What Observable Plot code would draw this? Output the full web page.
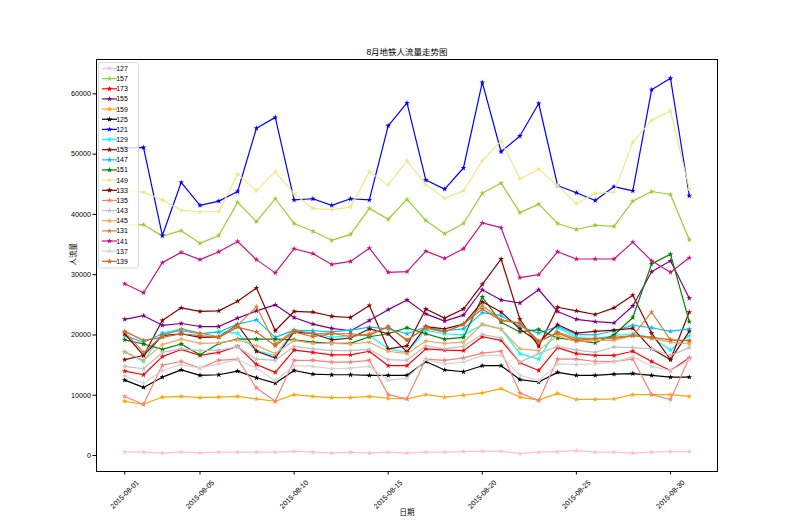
<!DOCTYPE html>
<html><head><meta charset="utf-8">
<script src="https://cdn.jsdelivr.net/npm/d3@7"></script>
<script src="https://cdn.jsdelivr.net/npm/@observablehq/plot@0.6"></script>
<style>body{margin:0;background:#fff}#chart svg{display:block}</style>
</head><body><div id="chart"></div>
<script>
// ---- data ----
const title = "8月地铁人流量走势图";
const xLabel = "日期";
const yLabel = "人流量";
const stations = ["127","157","173","155","159","125","121","129","153","147","151","149","133","135","143","145","131","141","137","139"];
const colors = ["#FFC0CB","#9ACD32","#FF0000","#800080","#FFA500","#000000","#0000FF","#00FFFF","#8B0000","#00BFFF","#008000","#F0E68C","#800000","#FA8072","#C0C0C0","#F4A460","#CD853F","#C71585","#D3D3D3","#D2691E"];
const dates = d3.utcDays(new Date(Date.UTC(2015,7,1)), new Date(Date.UTC(2015,8,1)));
const xTickLabels = ["2015-08-01","2015-08-05","2015-08-10","2015-08-15","2015-08-20","2015-08-25","2015-08-30"];
const yTicks = [0,10000,20000,30000,40000,50000,60000];

const flow127 = [600,550,400,600,450,550,550,550,550,700,550,400,550,400,550,400,550,550,650,700,700,300,550,650,800,550,550,400,550,650,650];
const flow157 = [38200,38300,36400,37300,35200,36500,42000,38800,42600,38500,37200,35700,36700,41000,39200,42500,39000,36800,38500,43500,45200,40300,41700,38500,37500,38200,38000,42200,43800,43300,35800];
const flow173 = [14000,13400,16400,17600,16600,17100,18100,15100,13800,17500,17100,16700,16700,17300,14900,14900,17700,17500,17400,19700,19100,15400,14100,17900,16900,16600,16600,17300,15600,14100,16200];
const flow155 = [22600,23200,21600,21900,21400,21400,22800,24000,25000,22900,21800,21100,20700,22400,24200,25800,23500,22300,23300,27500,25800,25300,27500,23900,22600,22200,22000,24800,30500,32300,26100];
const flow159 = [9000,8500,9700,9800,9600,9700,9800,9400,9000,10100,9800,9600,9600,9800,9500,9400,10100,9700,10000,10400,11100,9700,9200,10300,9300,9300,9400,10100,10100,10100,9800];
const flow125 = [12500,11300,13000,14200,13300,13400,14000,12900,12000,14100,13500,13400,13400,13300,13300,13300,15600,14200,13900,14900,14900,12600,12200,13800,13300,13300,13500,13600,13300,13000,13000];
const flow121 = [51000,51100,36500,45300,41500,42200,43800,54300,56100,42400,42600,41500,42600,42400,54700,58500,45700,44200,47700,61900,50400,53000,58400,44800,43600,42300,44600,43900,60700,62600,43100];
const flow129 = [17200,15600,20300,21000,20200,20500,20300,17400,16600,20700,20400,19600,19900,19900,17700,17100,20800,20200,20000,21700,21000,16900,16000,21200,19600,19400,19900,20200,19600,17500,19900];
const flow153 = [15900,16600,22400,24500,23900,24000,25600,27800,20700,23900,23800,23100,22900,24900,17700,18200,24300,22800,24300,28400,32600,22600,18100,24600,24000,23400,24500,26600,20300,15900,23800];
const flow147 = [19900,18800,20200,20700,20200,20500,21800,22500,19600,20800,20700,20500,20800,21300,21000,20200,21300,20700,21000,23700,23200,21400,20300,21400,20100,20000,20700,21600,21200,20600,21000];
const flow151 = [19200,18500,17600,18500,16700,18600,19300,19300,19300,19200,18800,18600,18600,19700,20200,21200,20200,19300,19600,26300,22100,20500,20900,19500,19100,18700,20000,22900,31800,33400,22200];
const flow149 = [44000,43700,42400,40700,40400,40500,46700,43900,47100,43400,41000,40800,41200,47100,44900,48900,44900,42700,43900,48900,52200,45900,47500,44800,41800,43500,43700,52000,55600,57200,44200];
const flow133 = [20200,16600,19900,20200,19600,19700,21700,17300,16200,20500,20200,19200,19500,21000,20200,17200,21400,21000,21800,25500,23800,21000,18800,21700,20300,20600,20800,21100,17700,15900,20600];
const flow135 = [9800,8500,15000,15600,14500,15800,16000,11200,9000,15800,15800,15500,15500,15800,10100,9400,16000,15800,16200,17000,17300,10400,9100,16000,16000,15600,15600,16000,10100,9300,16200];
const flow143 = [14800,14400,17100,17700,17400,17500,18000,16000,15800,18100,17700,17400,17400,17600,15900,15800,18200,17700,18100,20100,19500,15500,16900,18100,17500,17100,18000,17900,17700,16600,17900];
const flow145 = [17200,15800,18400,19300,18600,18700,19200,18200,16900,19100,18600,18600,18500,18800,17300,16900,19000,18600,18800,21800,21000,17700,17400,19900,18900,19100,19100,19900,19400,18800,18500];
const flow131 = [20500,17100,19900,21000,20300,19700,21600,24700,18500,20800,20200,20300,19700,20200,21300,19200,21100,20500,21700,24900,22500,21900,18800,20500,19400,19400,19400,19900,23800,19200,19100];
const flow141 = [28500,27000,32000,33700,32500,33800,35500,32500,30300,34300,33500,31700,32200,34400,30400,30500,33900,32700,34300,38600,37800,29500,30000,33800,32600,32600,32600,35400,32300,30400,32800];
const flow137 = [13200,12000,14100,15100,14500,15200,15900,14500,12400,14900,14800,14400,14500,14800,12500,12800,15900,15200,15500,16600,16600,13300,12400,15200,15100,15200,15500,16400,14800,14100,15800];
const flow139 = [20600,19100,19600,20200,19900,19600,21300,20500,18200,20500,19700,20200,20200,19900,21400,19100,21300,20500,21800,24300,22400,22000,19000,20300,19100,19400,19600,19900,19600,19200,19000];

const flows = {"127":flow127,"157":flow157,"173":flow173,"155":flow155,"159":flow159,"125":flow125,"121":flow121,"129":flow129,"153":flow153,"147":flow147,"151":flow151,"149":flow149,"133":flow133,"135":flow135,"143":flow143,"145":flow145,"131":flow131,"141":flow141,"137":flow137,"139":flow139};

// ---- table ----
const rows = stations.flatMap(s => flows[s].map((v, i) => ({station: s, date: dates[i], value: v})));

const font = '"Liberation Sans", Arial, "Noto Sans CJK SC", sans-serif';
const xTicks = xTickLabels.map(d => new Date(d + "T00:00:00Z"));
const R = 1.8;

const seriesMarks = stations.flatMap(s => {
  const d = rows.filter(r => r.station === s);
  return [
    Plot.line(d, {x: "date", y: "value", stroke: "station", strokeWidth: 1.2}),
    Plot.dot(d, {x: "date", y: "value", fill: "station", symbol: "star", r: R})
  ];
});

const svg = Plot.plot({
  width: 785, height: 529,
  marginLeft: 96, marginRight: 68, marginTop: 59, marginBottom: 58,
  style: {fontFamily: font, fontSize: "7.2px", background: "#fff", color: "#000"},
  x: {type: "utc", domain: [new Date(Date.UTC(2015,6,30,12)), new Date(Date.UTC(2015,8,1,12))]},
  y: {domain: [-2650, 65700]},
  color: {domain: stations, range: colors},
  marks: [
    ...seriesMarks,
    Plot.frame({stroke: "#000", strokeWidth: 1}),
    Plot.axisY({ticks: yTicks, tickSize: 3.5, tickPadding: 2, tickFormat: d3.format("d"), label: null, stroke: "#000", fill: "#000"}),
    Plot.axisX({ticks: xTicks, tickSize: 3.5, tickFormat: () => "", label: null, stroke: "#000"}),
    Plot.text(xTicks, {x: d => d, text: d => d3.utcFormat("%Y-%m-%d")(d), frameAnchor: "bottom", dy: 23, rotate: -45, textAnchor: "middle", lineAnchor: "middle", fontSize: 7.2, fill: "#000"}),
    Plot.text([title], {text: d => d, frameAnchor: "top", dy: -5, lineAnchor: "bottom", fontSize: 8.5, fill: "#000"}),
    Plot.text([xLabel], {text: d => d, frameAnchor: "bottom", dy: 41, lineAnchor: "middle", fontSize: 7.5, fill: "#000"}),
    Plot.text([yLabel], {text: d => d, frameAnchor: "left", dx: -23, rotate: -90, lineAnchor: "middle", fontSize: 7.5, fill: "#000"})
  ]
});

// ---- legend (matplotlib-style, upper left inside the axes) ----
const g = d3.select(svg).append("g").attr("font-family", font).attr("font-size", 7);
const lx = 98.5, ly = 62.5, rowH = 10.15;
g.append("rect").attr("x", lx).attr("y", ly).attr("width", 40).attr("height", 205.5)
  .attr("rx", 2).attr("fill", "#fff").attr("fill-opacity", 0.8).attr("stroke", "#d0d0d0").attr("stroke-width", 0.8);
const star = d3.symbol(d3.symbolStar, Math.PI * R * R)();
stations.forEach((s, i) => {
  const y = ly + 6 + i * rowH;
  const c = colors[i];
  g.append("line").attr("x1", lx + 3.5).attr("x2", lx + 18.5).attr("y1", y).attr("y2", y).attr("stroke", c).attr("stroke-width", 1.2);
  g.append("path").attr("d", star).attr("transform", `translate(${lx + 11},${y})`).attr("fill", c);
  g.append("text").attr("x", lx + 23.5).attr("y", y).attr("dy", "0.35em").attr("fill", "#000").text(s);
});

document.getElementById("chart").appendChild(svg);
</script>
</body></html>
